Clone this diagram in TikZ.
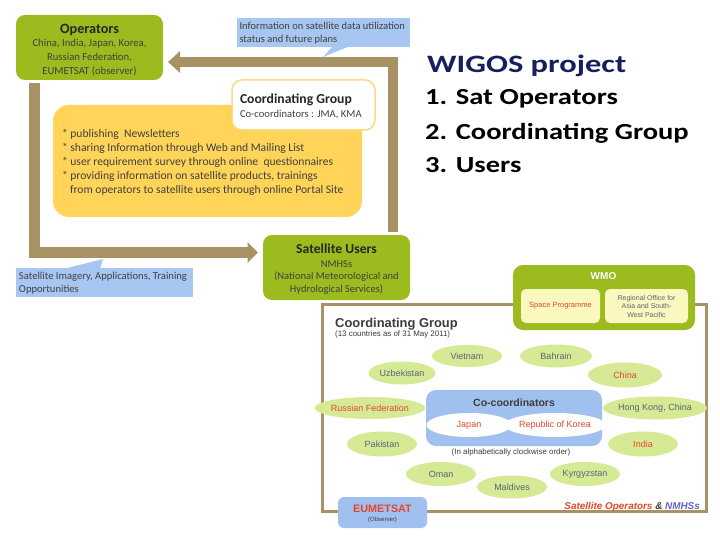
\documentclass[tikz,border=0pt]{standalone}
\usepackage{fontspec}
\setmainfont{Carlito}
\newfontfamily\arialf{Liberation Sans}
\usetikzlibrary{arrows.meta,shapes.geometric}
\definecolor{opgreen}{RGB}{155,187,30}
\definecolor{tan}{RGB}{168,146,100}
\definecolor{yelbox}{RGB}{255,212,88}
\definecolor{yelborder}{RGB}{250,218,130}
\definecolor{callblue}{RGB}{168,198,242}
\definecolor{ellgreen}{RGB}{214,234,150}
\definecolor{coblue}{RGB}{160,192,240}
\definecolor{paleyel}{RGB}{250,248,190}
\definecolor{redtxt}{RGB}{226,72,40}
\definecolor{gtext}{RGB}{90,100,115}
\definecolor{dtext}{RGB}{64,64,64}
\definecolor{dgray}{RGB}{60,60,60}
\definecolor{navy}{RGB}{25,30,95}
\definecolor{nmhsblue}{RGB}{100,100,210}
\begin{document}
\begin{tikzpicture}[x=1pt,y=-1pt,
  box/.style={rectangle, inner sep=0pt, outer sep=0pt},
  txt/.style={inner sep=0pt, outer sep=0pt, text=dtext},
  ell/.style={ellipse, fill=ellgreen, inner sep=0pt, outer sep=0pt, font=\arialf\fontsize{9}{10}\selectfont, text=gtext},
  wel/.style={ellipse, fill=white, inner sep=0pt, outer sep=0pt, font=\arialf\fontsize{9}{10}\selectfont, text=redtxt},
  flow/.style={draw=tan, line width=10.5pt, line join=miter},
]
\useasboundingbox (0,0) rectangle (720,540);
\fill[white] (0,0) rectangle (720,540);

% ---------- flow arrows ----------
\coordinate (rb) at (393,232);
\coordinate (optip) at (168,62);
\coordinate (lb) at (34.5,83);
\coordinate (ustip) at (258,252.5);
\draw[flow, -{Triangle[width=21pt,length=12pt]}] (rb) |- (optip);
\draw[flow, -{Triangle[width=20pt,length=10.5pt]}] (lb) |- (ustip);

% ---------- callouts ----------
\node[box, fill=callblue, minimum width=173pt, minimum height=29pt] (cb1) at (323.5,32.5) {};
\fill[callblue] (333,46) -- (350,46) -- (323,57) -- cycle;
\node[txt, anchor=west, align=left, font=\fontsize{10.5}{13}\selectfont] (cb1t) at (239.5,33.5)
  {Information on satellite data utilization\\status and future plans};

\node[box, fill=callblue, minimum width=177pt, minimum height=29pt] (cb2) at (104.5,282.5) {};
\fill[callblue] (63,269) -- (100,269) -- (103,259) -- cycle;
\node[txt, anchor=west, align=left, font=\fontsize{10.6}{12.5}\selectfont] (cb2t) at (19,283)
  {Satellite Imagery, Applications, Training\\Opportunities};

% ---------- Operators ----------
\node[box, fill=opgreen, rounded corners=9pt, minimum width=147pt, minimum height=65pt] (ops) at (89.5,47.5) {};
\node[txt, font=\bfseries\fontsize{14.2}{15}\selectfont, text=black!85] (opst) at (89.5,29.5) {Operators};
\node[txt, align=center, font=\fontsize{10.7}{14}\selectfont] (opsb) at (89.5,57.5)
  {China, India, Japan, Korea,\\Russian Federation,\\EUMETSAT (observer)};

% ---------- yellow activity box ----------
\node[box, fill=yelbox, rounded corners=16pt, minimum width=309pt, minimum height=112pt] (act) at (207.5,161) {};
\node[txt, anchor=west, align=left, font=\fontsize{11.6}{14}\selectfont] (actt) at (62,162.5)
  {* publishing\ \ Newsletters\\
   * sharing Information through Web and Mailing List\\
   * user requirement survey through online\ \ questionnaires\\
   * providing information on satellite products, trainings\\
   \hspace*{8pt}from operators to satellite users through online Portal Site};

% ---------- Coordinating Group (white) ----------
\node[box, fill=white, draw=yelborder, line width=1.5pt, rounded corners=10pt, minimum width=143pt, minimum height=50pt] (cg) at (303.5,105) {};
\node[txt, anchor=west, font=\bfseries\fontsize{13.7}{15}\selectfont, text=black!85] (cgt) at (240,99.5) {Coordinating Group};
\node[txt, anchor=west, font=\fontsize{10.6}{12}\selectfont] (cgb) at (240,114) {Co-coordinators : JMA, KMA};

% ---------- Satellite Users ----------
\node[box, fill=opgreen, rounded corners=9pt, minimum width=147pt, minimum height=65pt] (users) at (336.5,267.5) {};
\node[txt, font=\bfseries\fontsize{13.7}{15}\selectfont, text=black!85] (userst) at (336.5,249) {Satellite Users};
\node[txt, align=center, font=\fontsize{10.5}{12.5}\selectfont] (usersb) at (336.5,277)
  {NMHSs\\(National Meteorological and\\Hydrological Services)};

% ---------- WIGOS title ----------
\node[anchor=base west, inner sep=0pt, font=\bfseries\fontsize{25}{30}\selectfont, text=navy] (wigos) at (427,73)
  {\scalebox{1.3}[1]{WIGOS project}};
\node[anchor=base west, inner sep=0pt, font=\bfseries\fontsize{23}{28}\selectfont, text=black] (l1) at (425,105)
  {\scalebox{1.24}[1]{1. Sat Operators}};
\node[anchor=base west, inner sep=0pt, font=\bfseries\fontsize{23}{28}\selectfont, text=black] (l2) at (425,140)
  {\scalebox{1.24}[1]{2. Coordinating Group}};
\node[anchor=base west, inner sep=0pt, font=\bfseries\fontsize{23}{28}\selectfont, text=black] (l3) at (425,173)
  {\scalebox{1.24}[1]{3. Users}};

% ---------- bottom-right panel ----------
\node[box, fill=white, draw=tan, line width=3pt, minimum width=384pt, minimum height=207pt] (panel) at (514,407.5) {};
\node[anchor=base west, inner sep=0pt, font=\arialf\bfseries\fontsize{12.9}{14}\selectfont, text=dgray] (pt) at (335,327) {Coordinating Group};
\node[anchor=base west, inner sep=0pt, font=\arialf\fontsize{7.9}{9}\selectfont, text=dgray] (ps) at (335,336.5) {(13 countries as of 31 May 2011)};

% WMO
\node[box, fill=opgreen, rounded corners=10pt, minimum width=182pt, minimum height=65pt] (wmo) at (604,297.5) {};
\node[txt, font=\arialf\bfseries\fontsize{10}{12}\selectfont, text=white] (wmot) at (603.5,276) {WMO};
\node[box, fill=paleyel, rounded corners=5pt, minimum width=79pt, minimum height=34pt,
      font=\arialf\fontsize{7.5}{9}\selectfont, text=redtxt] (space) at (560.5,306) {Space Programme};
\node[box, fill=paleyel, rounded corners=5pt, minimum width=83pt, minimum height=34pt, align=center,
      font=\arialf\fontsize{7}{8.5}\selectfont, text=gtext] (raso) at (646.5,306) {Regional Office for\\Asia and South-\\West Pacific};

% member ellipses
\node[ell, minimum width=70pt, minimum height=22pt] (vn) at (467,356) {Vietnam};
\node[ell, minimum width=72pt, minimum height=23pt] (bh) at (556,356) {Bahrain};
\node[ell, minimum width=67pt, minimum height=23pt] (uz) at (402,373) {Uzbekistan};
\node[ell, minimum width=74pt, minimum height=25pt, text=redtxt] (cn) at (625,375) {China};
\node[ell, minimum width=95pt, minimum height=22pt, text=redtxt] (ru) at (370,408) {Russian Federation};
\node[ell, minimum width=96pt, minimum height=23pt] (hk) at (655,408) {Hong Kong, China};
\node[ell, minimum width=70pt, minimum height=25pt] (pk) at (382,444) {Pakistan};
\node[ell, minimum width=70pt, minimum height=25pt, text=redtxt] (in) at (643,444) {India};
\node[ell, minimum width=70pt, minimum height=24pt] (om) at (441,474) {Oman};
\node[ell, minimum width=70pt, minimum height=24pt] (kg) at (585,474) {Kyrgyzstan};
\node[ell, minimum width=70pt, minimum height=23pt] (mv) at (512,487) {Maldives};

% co-coordinators
\node[box, fill=coblue, rounded corners=10pt, minimum width=176pt, minimum height=56pt] (cocoord) at (514,418) {};
\node[txt, font=\arialf\bfseries\fontsize{10.5}{12}\selectfont, text=dgray] (cocoordt) at (514,403) {Co-coordinators};
\node[wel, minimum width=85pt, minimum height=24pt] (jp) at (469,425) {Japan};
\node[wel, minimum width=80pt, minimum height=24pt] (kr) at (555,425) {Republic of Korea};
\node[txt, font=\arialf\fontsize{7.9}{9}\selectfont, text=dgray] (order) at (511,452) {(In alphabetically clockwise order)};

% EUMETSAT
\node[box, fill=coblue, rounded corners=6pt, minimum width=89pt, minimum height=31pt] (eum) at (382.5,512.5) {};
\node[txt, font=\arialf\bfseries\fontsize{10.8}{12}\selectfont, text=redtxt] (eumt) at (382.5,508.5) {EUMETSAT};
\node[txt, font=\arialf\fontsize{6}{7}\selectfont, text=dgray] (eumo) at (382.5,520) {(Observer)};

% legend
\node[anchor=base east, inner sep=0pt, font=\arialf\bfseries\itshape\fontsize{9.9}{11}\selectfont] (legend) at (700,509)
  {\textcolor{redtxt}{Satellite Operators} \textcolor{dgray}{\&} \textcolor{nmhsblue}{NMHSs}};
\end{tikzpicture}
\end{document}
